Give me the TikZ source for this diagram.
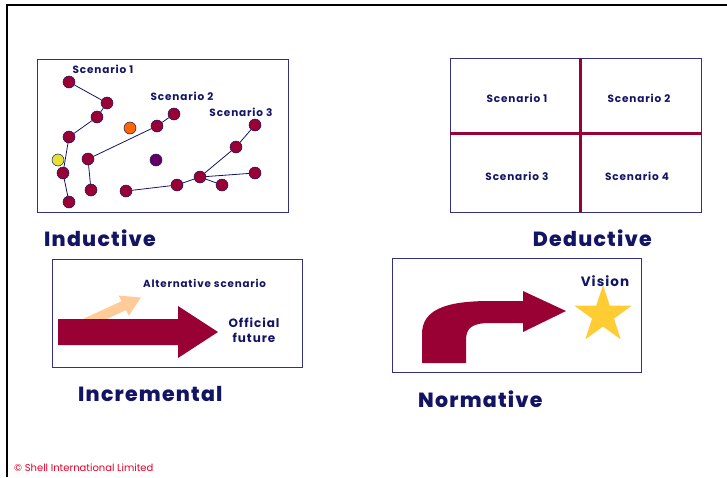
\documentclass[tikz,border=0pt]{standalone}
\usepackage{fontspec}
\setmainfont{Poppins}
\newfontfamily\heavyfont{Poppins ExtraBold}[LetterSpace=6]
\newfontfamily\boldspaced{Poppins Bold}[LetterSpace=8]
\usepackage{tikz}
\usetikzlibrary{arrows.meta, positioning, shapes.geometric}
\definecolor{shellNavy}{RGB}{20, 20, 100}
\definecolor{frameBlue}{RGB}{50, 50, 130}
\definecolor{shellMaroon}{RGB}{153, 0, 51}
\definecolor{dotOrange}{RGB}{255, 102, 0}
\definecolor{dotYellow}{RGB}{230, 225, 50}
\definecolor{dotPurple}{RGB}{100, 0, 100}
\definecolor{starGold}{RGB}{255, 204, 51}
\definecolor{peach}{RGB}{255, 204, 153}
\definecolor{shellRed}{RGB}{230, 0, 40}

\begin{document}
\begin{tikzpicture}[
    x=1pt, y=-1pt,
    panel/.style={draw=frameBlue, line width=0.8pt},
    dot/.style={circle, draw=shellNavy, line width=0.5pt, fill=shellMaroon,
      minimum size=12pt, inner sep=0pt},
    link/.style={draw=shellNavy, line width=0.8pt},
    lbl/.style={font=\boldspaced\fontsize{10.5}{12}\selectfont, text=shellNavy, inner sep=0pt},
    title/.style={font=\heavyfont\fontsize{20.5}{24}\selectfont, text=shellNavy, inner sep=0pt},
    divider/.style={draw=shellMaroon, line width=3pt},
  ]
    \useasboundingbox (0,0) rectangle (727,477);

    % Page frame
    \draw[line width=1.4pt] (727,5) -- (7,5) -- (7,477);

    % Inductive
    \draw[panel] (37,59) rectangle (288,212);
    \node[lbl] (s1) at (103,69) {Scenario 1};
    \node[lbl] (s2) at (182,96) {Scenario 2};
    \node[lbl] (s3) at (241,112) {Scenario 3};

    \node[dot] (a1) at (69,82) {};
    \node[dot] (a2) at (107,103) {};
    \node[dot] (a3) at (97,117) {};
    \node[dot] (a4) at (69,137) {};
    \node[dot, fill=dotYellow] (a5) at (58,160) {};
    \node[dot] (a6) at (63,173) {};
    \node[dot] (a7) at (69,202) {};
    \node[dot, fill=dotOrange] (odd) at (130,128) {};

    \node[dot] (b1) at (174,114) {};
    \node[dot] (b2) at (157,126) {};
    \node[dot] (b3) at (88,159) {};
    \node[dot] (b4) at (91,190) {};
    \node[dot, fill=dotPurple] (lone) at (156,160) {};

    \node[dot] (c1) at (255,125) {};
    \node[dot] (c2) at (236,147) {};
    \node[dot] (c3) at (200,177) {};
    \node[dot] (c4) at (177,185) {};
    \node[dot] (c5) at (126,191) {};
    \node[dot] (c6) at (255,173) {};
    \node[dot] (c7) at (222,185) {};

    \draw[link] (a1) -- (a2);
    \draw[link] (a2) -- (a3);
    \draw[link] (a3) -- (a4);
    \draw[link] (a4) -- (a6);
    \draw[link] (a6) -- (a7);
    \draw[link] (b1) -- (b2);
    \draw[link] (b2) -- (b3);
    \draw[link] (b3) -- (b4);
    \draw[link] (c1) -- (c2);
    \draw[link] (c2) -- (c3);
    \draw[link] (c3) -- (c4);
    \draw[link] (c4) -- (c5);
    \draw[link] (c3) -- (c6);
    \draw[link] (c3) -- (c7);

    \node[title, anchor=west] (induct) at (44,238) {Inductive};

    % Deductive
    \draw[panel] (450,58) rectangle (701,212);
    \draw[divider] (580,58) -- (580,212);
    \draw[divider] (450,133) -- (701,133);
    \node[lbl] (q1) at (517,98) {Scenario 1};
    \node[lbl] (q2) at (639,98) {Scenario 2};
    \node[lbl] (q3) at (517,176) {Scenario 3};
    \node[lbl] (q4) at (637,176) {Scenario 4};

    \node[title, anchor=east] (deduct) at (652,238) {Deductive};

    % Incremental
    \draw[panel] (52,259) rectangle (302,367);
    \fill[peach] (83,319) -- (121.6,301.1) -- (118.5,295.5) -- (141,297.5)
      -- (128.9,315.7) -- (125.8,310.1) -- (106.8,319) -- cycle;
    \fill[shellMaroon] (58,319) -- (178,319) -- (178,306) -- (218,332)
      -- (178,358) -- (178,345) -- (58,345) -- cycle;
    \node[lbl, font=\boldspaced\fontsize{10.3}{11}\selectfont, anchor=west]
      (alt) at (143,283) {Alternative scenario};
    \node[lbl, font=\boldspaced\fontsize{12}{15}\selectfont, align=center]
      (official) at (254,330) {Official\\future};

    \node[title, anchor=west] (increm) at (78,394) {Incremental};

    % Normative
    \draw[panel] (392,258) rectangle (641,372);
    \fill[shellMaroon] (422,363) -- (422,334) .. controls (422,310) and (445,301) .. (490,301)
      -- (523,301) -- (523,291) -- (566,311) -- (523,332) -- (523,323) -- (490,323)
      .. controls (472,323) and (466,328) .. (466,340) -- (466,363) -- cycle;
    \node[star, star points=5, star point ratio=2.6, fill=starGold, inner sep=0pt,
      minimum size=60pt] (goal) at (603,315) {};
    \node[lbl, font=\boldspaced\fontsize{13.5}{15}\selectfont] (vision) at (605,281) {Vision};

    \node[title, anchor=west] (norm) at (418,399) {Normative};

    % Credit
    \node[font=\fontsize{10}{12}\selectfont, text=shellRed, anchor=west, inner sep=0pt]
      (credit) at (14,468) {© Shell International Limited};
  \end{tikzpicture}
\end{document}
